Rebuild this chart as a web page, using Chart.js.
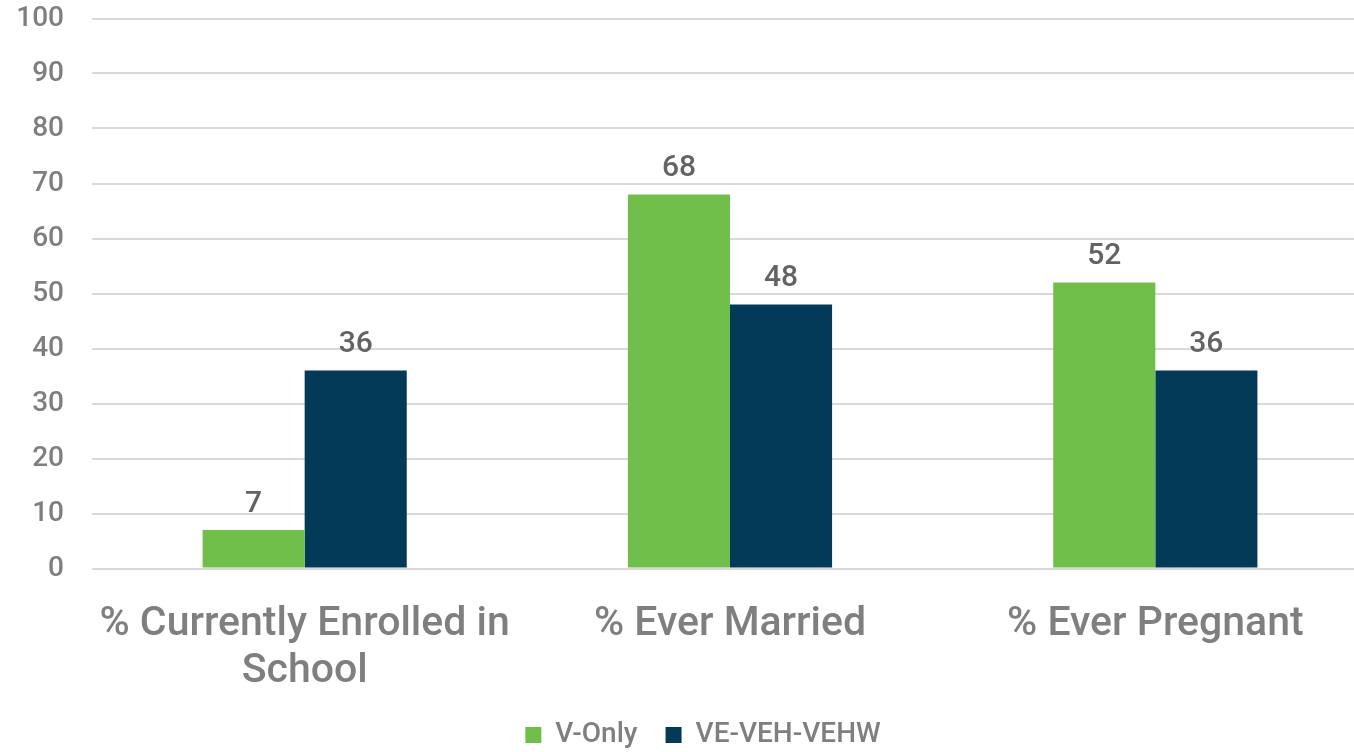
<!DOCTYPE html>
<html lang="en">

<head>
    <meta charset="UTF-8">
    <title>Outcomes by Group</title>
    <script src="https://cdn.jsdelivr.net/npm/chart.js"></script>
    <style>
        body {
            margin: 0;
            padding: 0;
            background-color: #ffffff;
            overflow: hidden;
        }

        .wrap {
            width: 1368px;
            height: 752px;
        }
    </style>
</head>

<body>
    <div class="wrap">
        <canvas id="outcomes"></canvas>
    </div>

    <script>
        const categories = [['% Currently Enrolled in', 'School'], '% Ever Married', '% Ever Pregnant'];
        const seriesNames = ['V-Only', 'VE-VEH-VEHW'];
        const vOnly = [7, 68, 52];
        const veGroup = [36, 48, 36];
        const yTicks = [0, 10, 20, 30, 40, 50, 60, 70, 80, 90, 100];

        const fontFamily = "Roboto, 'Liberation Sans', sans-serif";

        // write each bar's value just above it
        const valueLabels = {
            id: 'valueLabels',
            afterDatasetsDraw(chart) {
                const ctx = chart.ctx;
                ctx.save();
                ctx.font = '500 30px ' + fontFamily;
                ctx.fillStyle = '#636363';
                ctx.textAlign = 'center';
                ctx.textBaseline = 'bottom';
                chart.data.datasets.forEach((ds, i) => {
                    chart.getDatasetMeta(i).data.forEach((bar, j) => {
                        ctx.fillText(ds.data[j], bar.x, bar.y - 11);
                    });
                });
                ctx.restore();
            }
        };

        // nudge the legend a little to the right of the canvas centre
        const legendShift = {
            id: 'legendShift',
            afterLayout(chart) {
                chart.legend.left += 19;
                chart.legend.right += 19;
            }
        };

        new Chart(document.getElementById('outcomes'), {
            type: 'bar',
            data: {
                labels: categories,
                datasets: [{
                    label: seriesNames[0],
                    data: vOnly,
                    backgroundColor: '#70bf4b'
                }, {
                    label: seriesNames[1],
                    data: veGroup,
                    backgroundColor: '#033a57'
                }]
            },
            options: {
                responsive: true,
                maintainAspectRatio: false,
                animation: false,
                layout: { padding: { top: 18.5, bottom: -7 } },
                datasets: {
                    bar: { barPercentage: 1, categoryPercentage: 0.48 }
                },
                scales: {
                    x: {
                        grid: { display: false },
                        border: { display: false },
                        ticks: {
                            color: '#7f7f7f',
                            padding: 25,
                            maxRotation: 0,
                            font: { family: fontFamily, size: 41, weight: 500, lineHeight: 1.15 }
                        },
                        afterFit(scale) { scale.height = 124.5; }
                    },
                    y: {
                        min: 0,
                        max: 100,
                        afterBuildTicks(scale) { scale.ticks = yTicks.map(v => ({ value: v })); },
                        grid: { color: '#d9d9d9', lineWidth: 2, drawTicks: false },
                        border: { display: false },
                        ticks: {
                            color: '#7f7f7f',
                            padding: 28,
                            font: { family: fontFamily, size: 28, weight: 500 }
                        },
                        afterFit(scale) {
                            scale.width = 92;
                            scale.paddingTop = 0;
                            scale.paddingBottom = 0;
                        }
                    }
                },
                plugins: {
                    tooltip: { enabled: false },
                    legend: {
                        position: 'bottom',
                        labels: {
                            color: '#7f7f7f',
                            boxWidth: 16,
                            boxHeight: 16,
                            padding: 28,
                            font: { family: fontFamily, size: 28, weight: 500 }
                        }
                    }
                }
            },
            plugins: [valueLabels, legendShift]
        });
    </script>
</body>

</html>
